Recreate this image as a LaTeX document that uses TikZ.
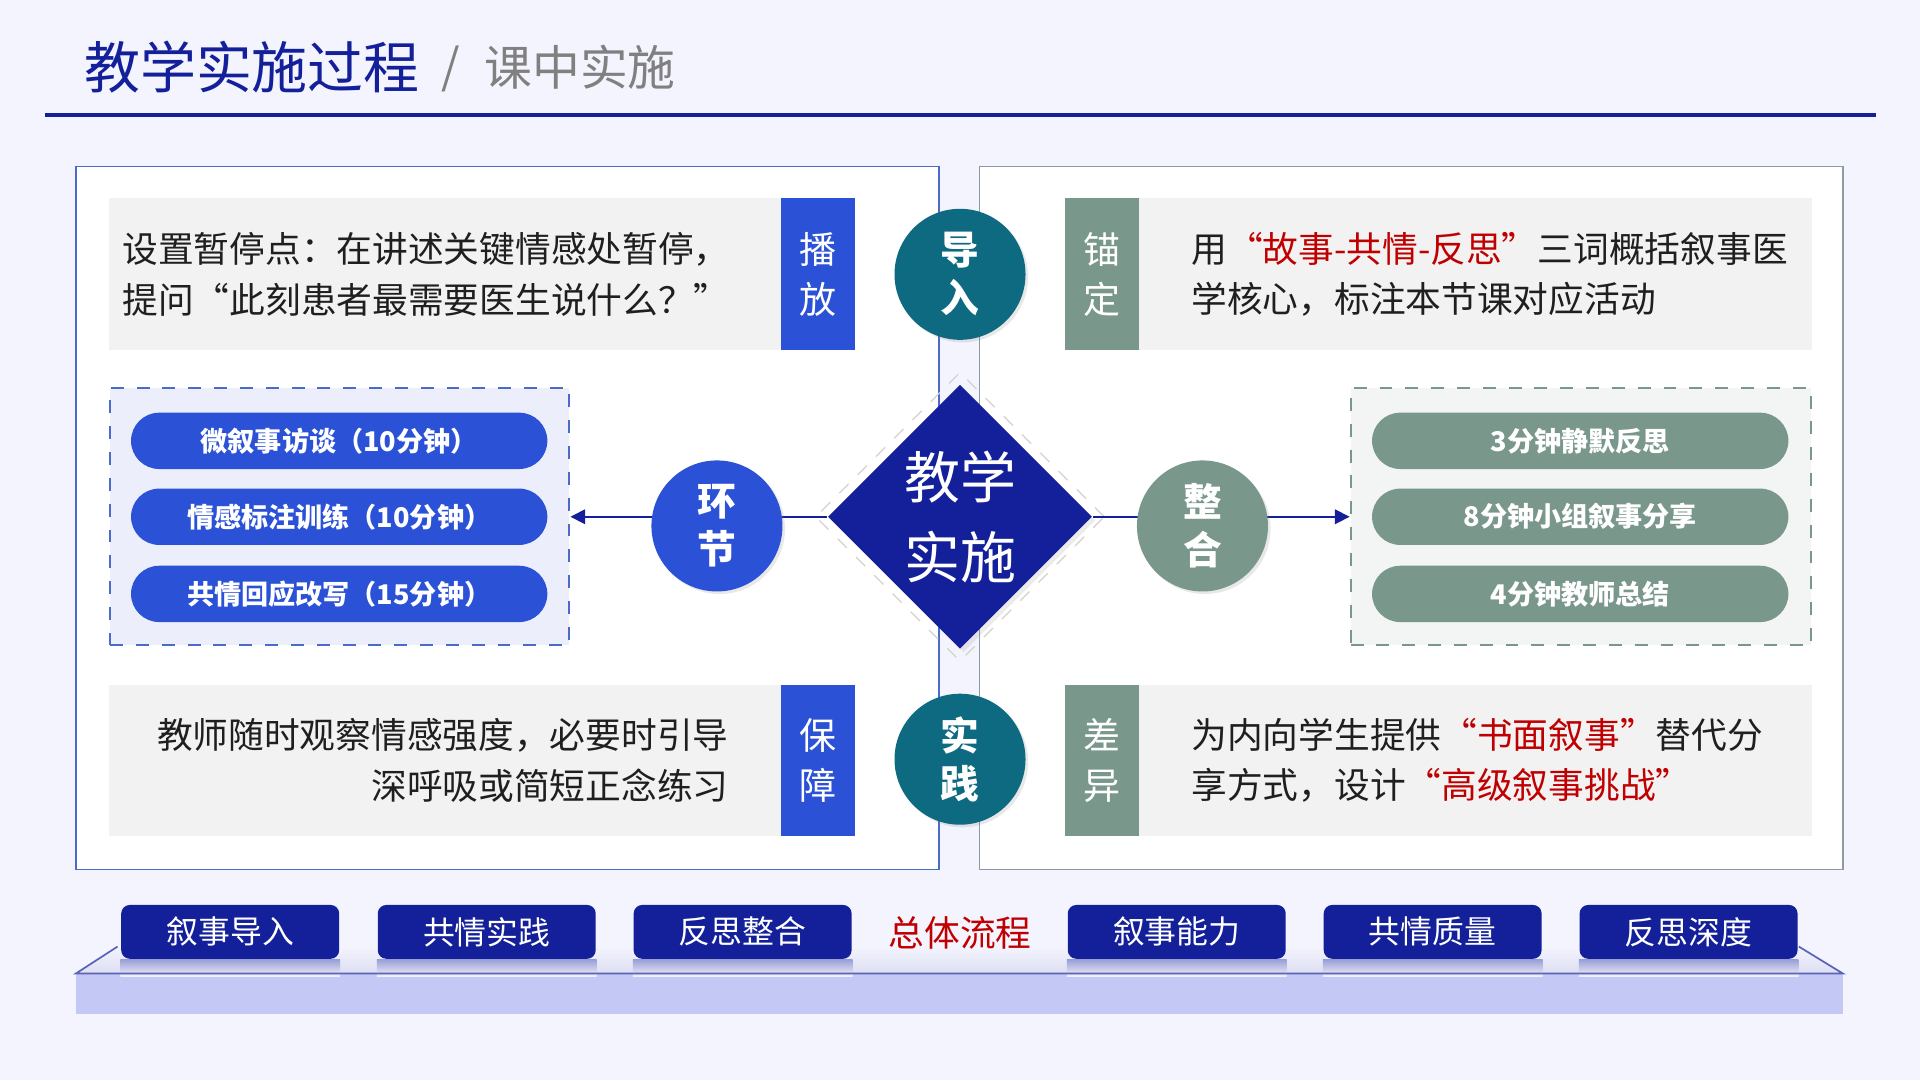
\documentclass[tikz,border=0pt]{standalone}
\usepackage{fontspec}
\setmainfont{Noto Sans CJK SC}
\usetikzlibrary{shapes.geometric,shadows,arrows.meta,positioning}

\definecolor{fondo}{HTML}{F3F4FD}
\definecolor{azuloscuro}{HTML}{14209A}
\definecolor{azul}{HTML}{2B52D6}
\definecolor{verde}{HTML}{7A978C}
\definecolor{petroleo}{HTML}{0E6A80}
\definecolor{grisclaro}{HTML}{F2F2F2}
\definecolor{rojo}{HTML}{C00000}
\definecolor{gristexto}{HTML}{808080}
\definecolor{bordeazul}{HTML}{4A6BC8}
\definecolor{bordeverde}{HTML}{8A9CA0}
\definecolor{frente}{HTML}{C3C8F5}

\tikzset{
  caja/.style={fill=grisclaro, inner sep=0pt, minimum height=1.24cm},
  pestana/.style={inner sep=0pt, minimum width=0.60cm, minimum height=1.24cm,
    text=white, align=center, font=\fontsize{8.6}{11.7}\selectfont},
  texto/.style={inner sep=0pt, text=black!88, font=\fontsize{8.3}{11.7}\selectfont},
  circulo/.style={circle, minimum size=1.07cm, inner sep=0pt, text=white, align=center,
    font=\bfseries\fontsize{9}{11.1}\selectfont,
    drop shadow={opacity=0.18, shadow xshift=0.6pt, shadow yshift=-0.6pt}},
  pildora/.style={rounded corners=0.23cm, minimum width=3.40cm, minimum height=0.46cm,
    inner sep=0pt, text=white, font=\bfseries\fontsize{6.3}{7}\selectfont},
  boton/.style={fill=azuloscuro, rounded corners=2pt, minimum width=1.78cm,
    minimum height=0.44cm, inner sep=0pt, text=white, font=\fontsize{7.4}{8}\selectfont},
  reflejo/.style={top color=azuloscuro!40!fondo, bottom color=fondo},
  conector/.style={azuloscuro, line width=0.4pt, -{Triangle[length=1.2mm, width=1.2mm]}},
}

\begin{document}
\begin{tikzpicture}[x=1cm, y=-1cm]

	% Fondo
	\fill[fondo] (0,0) rectangle (15.68,8.82);
	\useasboundingbox (0,0) rectangle (15.68,8.82);

	% Titulo
	\node[anchor=west, inner sep=0pt, text=azuloscuro, font=\fontsize{13}{15}\selectfont] (titulo) at (0.68,0.55) {教学实施过程};
	\node[inner sep=0pt, text=gristexto, font=\fontsize{11}{13}\selectfont] (barra) at (3.68,0.56) {/};
	\node[anchor=west, inner sep=0pt, text=gristexto, font=\fontsize{11.1}{13}\selectfont] (subtitulo) at (3.95,0.55) {课中实施};
	\draw[azuloscuro, line width=0.9pt] (0.37,0.94) -- (15.32,0.94); % linea bajo el titulo

	% Paneles
	\draw[bordeazul, fill=white, line width=0.4pt] (0.62,1.36) rectangle (7.67,7.10); % panel izquierdo
	\draw[bordeverde, fill=white, line width=0.4pt] (8.00,1.36) rectangle (15.05,7.10); % panel derecho

	% Caja superior izquierda
	\node[caja, minimum width=5.49cm] (cajaBofang) at (3.635,2.24) {};
	\node[pestana, fill=azul] (bofang) at (6.68,2.24) {播\\放};
	\node[texto, anchor=west, align=left] (txtBofang) at ([xshift=0.11cm]cajaBofang.west)
		{设置暂停点：在讲述关键情感处暂停，\\提问“此刻患者最需要医生说什么？”};

	% Caja superior derecha
	\node[pestana, fill=verde] (maoding) at (9.00,2.24) {锚\\定};
	\node[caja, minimum width=5.50cm] (cajaMaoding) at (12.05,2.24) {};
	\node[texto, anchor=west, align=left] (txtMaoding) at ([xshift=0.43cm]cajaMaoding.west)
		{用{\color{rojo}“故事-共情-反思”}三词概括叙事医\\学核心，标注本节课对应活动};

	% Caja inferior izquierda
	\node[caja, minimum width=5.49cm] (cajaBaozhang) at (3.635,6.21) {};
	\node[pestana, fill=azul] (baozhang) at (6.68,6.21) {保\\障};
	\node[texto, anchor=east, align=right] (txtBaozhang) at ([xshift=-0.43cm]cajaBaozhang.east)
		{教师随时观察情感强度，必要时引导\\深呼吸或简短正念练习};

	% Caja inferior derecha
	\node[pestana, fill=verde] (chayi) at (9.00,6.21) {差\\异};
	\node[caja, minimum width=5.50cm] (cajaChayi) at (12.05,6.21) {};
	\node[texto, anchor=west, align=left] (txtChayi) at ([xshift=0.43cm]cajaChayi.west)
		{为内向学生提供{\color{rojo}“书面叙事”}替代分\\享方式，设计{\color{rojo}“高级叙事挑战”}};

	% Pasos del aula (izquierda)
	\node[draw=bordeazul, dashed, line width=0.5pt, fill=azul!9!white, inner sep=0pt,
		minimum width=3.75cm, minimum height=2.10cm] (cajaPasos) at (2.775,4.22) {};
	\node[pildora, fill=azul] (paso1) at (2.77,3.60) {微叙事访谈（10分钟）};
	\node[pildora, fill=azul] (paso2) at (2.77,4.22) {情感标注训练（10分钟）};
	\node[pildora, fill=azul] (paso3) at (2.77,4.85) {共情回应改写（15分钟）};

	% Cierre (derecha)
	\node[draw=verde, dashed, line width=0.5pt, fill=verde!10!white, inner sep=0pt,
		minimum width=3.76cm, minimum height=2.10cm] (cajaCierre) at (12.91,4.22) {};
	\node[pildora, fill=verde] (cierre1) at (12.905,3.60) {3分钟静默反思};
	\node[pildora, fill=verde] (cierre2) at (12.905,4.22) {8分钟小组叙事分享};
	\node[pildora, fill=verde] (cierre3) at (12.905,4.85) {4分钟教师总结};

	% Rombo central
	\node[diamond, draw=gray!35, dashed, line width=0.3pt, aspect=1, inner sep=0pt,
		minimum width=2.36cm, minimum height=2.36cm] (marco) at (7.84,4.22) {};
	\node[diamond, fill=azuloscuro, aspect=1, inner sep=0pt, minimum width=2.16cm, minimum height=2.16cm,
		text=white, align=center, font=\fontsize{13}{18.5}\selectfont,
		drop shadow={opacity=0.15, shadow xshift=0.8pt, shadow yshift=-0.8pt}] (centro) at (7.84,4.22) {教学\\实施};

	% Conectores
	\draw[conector] (centro.west) -- (cajaPasos.east);
	\draw[conector] (centro.east) -- (cajaCierre.west);

	% Circulos
	\node[circulo, fill=petroleo] (daoru) at (7.84,2.24) {导\\入};
	\node[circulo, fill=petroleo] (shijian) at (7.84,6.20) {实\\践};
	\node[circulo, fill=azul] (huanjie) at (5.855,4.295) {环\\节};
	\node[circulo, fill=verde] (zhenghe) at (9.82,4.295) {整\\合};

	% Plataforma inferior
	\shade[top color=fondo, bottom color=azuloscuro!10!fondo] (0.96,7.73) -- (14.69,7.73) -- (15.05,7.95) -- (0.62,7.95) -- cycle;
	\fill[frente] (0.62,7.95) rectangle (15.05,8.28);

	% Botones del flujo
	\node[boton] (b1) at (1.88,7.61) {叙事导入};
	\node[boton] (b2) at (3.975,7.61) {共情实践};
	\node[boton] (b3) at (6.065,7.61) {反思整合};
	\node[inner sep=0pt, text=rojo, font=\fontsize{8.3}{9}\selectfont] (flujo) at (7.84,7.62) {总体流程};
	\node[boton] (b4) at (9.61,7.61) {叙事能力};
	\node[boton] (b5) at (11.70,7.61) {共情质量};
	\node[boton] (b6) at (13.79,7.61) {反思深度};

	% Reflejos
	\shade[reflejo] (b1.south west) rectangle ([yshift=-0.14cm]b1.south east);
	\shade[reflejo] (b2.south west) rectangle ([yshift=-0.14cm]b2.south east);
	\shade[reflejo] (b3.south west) rectangle ([yshift=-0.14cm]b3.south east);
	\shade[reflejo] (b4.south west) rectangle ([yshift=-0.14cm]b4.south east);
	\shade[reflejo] (b5.south west) rectangle ([yshift=-0.14cm]b5.south east);
	\shade[reflejo] (b6.south west) rectangle ([yshift=-0.14cm]b6.south east);

	% Borde de la plataforma
	\draw[azuloscuro!70, line width=0.4pt] (0.96,7.73) -- (0.62,7.95) -- (15.05,7.95) -- (14.69,7.73);

\end{tikzpicture}
\end{document}
